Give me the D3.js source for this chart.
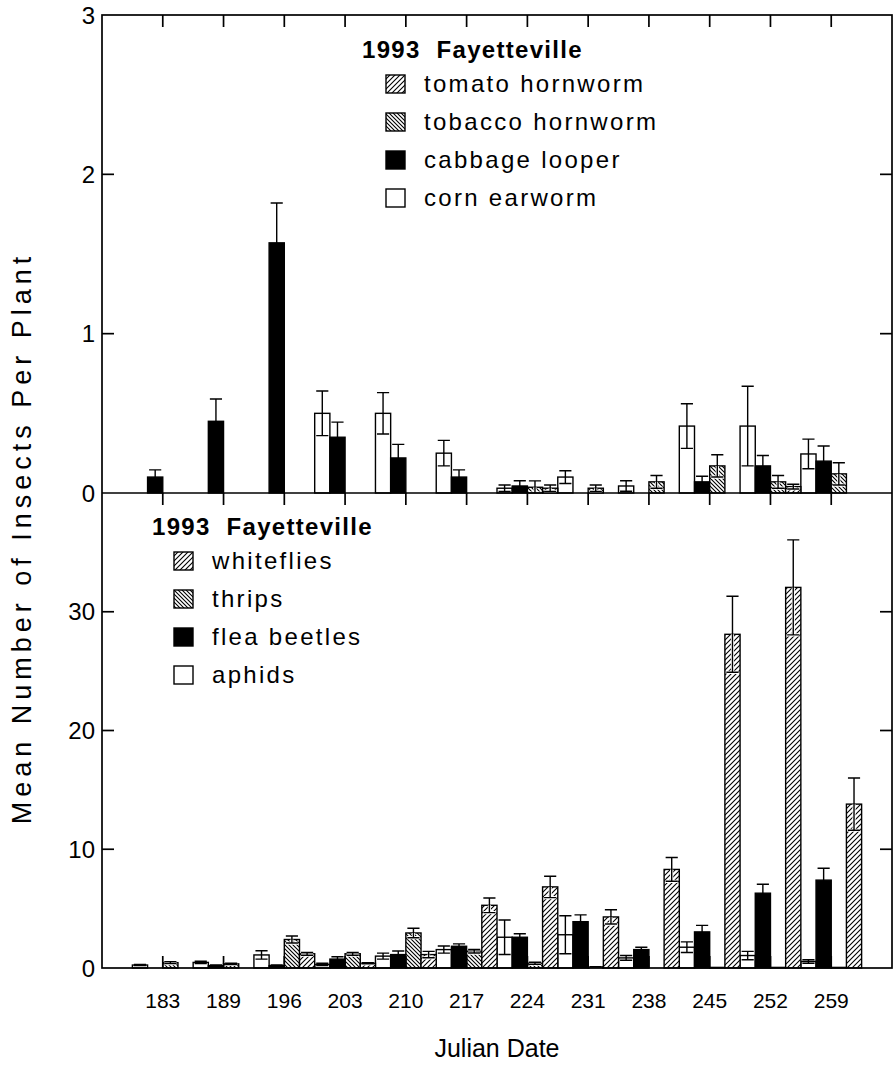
<!DOCTYPE html>
<html><head><meta charset="utf-8">
<script src="https://cdn.jsdelivr.net/npm/d3@7"></script>
<style>
body{margin:0;background:#fff}
svg{display:block}
text{font-family:"Liberation Sans",Arial,Helvetica,sans-serif;fill:#000}
</style>
</head><body>
<svg id="chart" width="894" height="1067"></svg>
<script>
// ---- data ----
const dates = [183,189,196,203,210,217,224,231,238,245,252,259];

// top panel (Lepidoptera)
const tomatoHornworm   = [0,0,0,0,0,0,0.03,0,0,0,0.04,0];
const tomatoHornwormSE = [0,0,0,0,0,0,0.02,0,0,0,0.015,0];
const tobaccoHornworm   = [0,0,0,0,0,0,0.036,0.03,0.07,0.17,0.07,0.12];
const tobaccoHornwormSE = [0,0,0,0,0,0,0.04,0.02,0.04,0.07,0.04,0.07];
const cabbageLooper   = [0.10,0.45,1.57,0.35,0.22,0.10,0.044,0,0,0.07,0.17,0.20];
const cabbageLooperSE = [0.045,0.14,0.25,0.095,0.085,0.045,0.033,0,0,0.035,0.065,0.095];
const cornEarworm   = [0,0,0,0.50,0.50,0.25,0.03,0.10,0.044,0.42,0.42,0.245];
const cornEarwormSE = [0,0,0,0.14,0.13,0.08,0.02,0.04,0.033,0.14,0.25,0.093];

// bottom panel
const whiteflies   = [0,0,1.2,0.4,1.13,5.28,6.83,4.3,8.3,28.1,32.05,13.8];
const whitefliesSE = [0,0,0.12,0.05,0.27,0.62,0.9,0.6,1.0,3.2,4.0,2.2];
const thrips   = [0.45,0.35,2.4,1.2,2.95,1.41,0.4,0.1,0,0.05,0.05,0.05];
const thripsSE = [0.08,0.05,0.3,0.12,0.4,0.15,0.08,0.02,0,0,0,0];
const fleaBeetles   = [0,0.2,0.2,0.75,1.13,1.83,2.59,3.9,1.55,3.04,6.3,7.4];
const fleaBeetlesSE = [0,0.05,0.05,0.2,0.3,0.2,0.3,0.57,0.2,0.55,0.75,1.0];
const aphids   = [0.25,0.47,1.1,0.3,1.0,1.55,2.59,2.8,0.85,1.75,1.05,0.55];
const aphidsSE = [0.05,0.1,0.35,0.1,0.25,0.3,1.45,1.6,0.2,0.45,0.35,0.15];

const topTicks = [0,1,2,3];
const bottomTicks = [0,10,20,30];
const legendTitle = "1993  Fayetteville";
const xTitle = "Julian Date";
const yTitle = "Mean Number of Insects Per Plant";

// ---- layout ----
const L = 102, R = 892, T = 15, M = 493, B = 968;
const svg = d3.select("#chart");

const defs = svg.append("defs");
// "////" pattern
const pf = defs.append("pattern").attr("id","fwd").attr("patternUnits","userSpaceOnUse")
  .attr("width",5).attr("height",5);
pf.append("rect").attr("width",5).attr("height",5).attr("fill","#fff");
pf.append("path").attr("d","M-1,1 L1,-1 M0,5 L5,0 M4,6 L6,4").attr("stroke","#000").attr("stroke-width",1.1);
// "\\\\" pattern (denser)
const pb = defs.append("pattern").attr("id","bwd").attr("patternUnits","userSpaceOnUse")
  .attr("width",4).attr("height",4);
pb.append("rect").attr("width",4).attr("height",4).attr("fill","#fff");
pb.append("path").attr("d","M-1,3 L1,5 M0,0 L4,4 M3,-1 L5,1").attr("stroke","#000").attr("stroke-width",1.1);

const fills = {white:"#fff", black:"#000", bwd:"url(#bwd)", fwd:"url(#fwd)"};
const keys = ["white","black","bwd","fwd"];

const x = d3.scaleBand().domain(dates).range([L,R]).paddingInner(0).paddingOuter(0.5);
const xs = d3.scaleBand().domain(keys).range([0, x.bandwidth()]).padding(0);

const yTop = d3.scaleLinear().domain([0,3]).range([M,T]);
const yBot = d3.scaleLinear().domain([0,40]).range([B,M]);

function drawPanel(series, y) {
  const g = svg.append("g");
  series.forEach(s => {
    const data = dates.map((d,i)=>({d, v:s.vals[i], e:s.se[i]}));
    g.selectAll(null).data(data.filter(p=>p.v>0)).join("rect")
      .attr("x", p=>x(p.d)+xs(s.key))
      .attr("width", xs.bandwidth())
      .attr("y", p=>y(p.v))
      .attr("height", p=>y(0)-y(p.v))
      .attr("fill", fills[s.key])
      .attr("stroke","#000").attr("stroke-width",1.4);
  });
  series.forEach(s => {
    const data = dates.map((d,i)=>({d, v:s.vals[i], e:s.se[i]})).filter(p=>p.e>0);
    const bw = xs.bandwidth();
    data.forEach(p=>{
      const cx = x(p.d)+xs(s.key)+bw/2;
      const y1 = y(p.v+p.e), y0 = y(Math.max(0,p.v-p.e));
      const cw = bw*0.8;
      if (s.key==="bwd"||s.key==="fwd") {
        g.append("path").attr("d",`M${cx},${y(p.v)}V${y0}M${cx-cw/2},${y0}H${cx+cw/2}`)
          .attr("stroke","#fff").attr("stroke-width",3.2).attr("fill","none");
      }
      g.append("path")
        .attr("d",`M${cx},${y1}V${y0}M${cx-cw/2},${y1}H${cx+cw/2}M${cx-cw/2},${y0}H${cx+cw/2}`)
        .attr("stroke","#000").attr("stroke-width",1.4).attr("fill","none");
    });
  });
}

drawPanel([
  {key:"white", vals:cornEarworm, se:cornEarwormSE},
  {key:"black", vals:cabbageLooper, se:cabbageLooperSE},
  {key:"bwd", vals:tobaccoHornworm, se:tobaccoHornwormSE},
  {key:"fwd", vals:tomatoHornworm, se:tomatoHornwormSE}
], yTop);

drawPanel([
  {key:"white", vals:aphids, se:aphidsSE},
  {key:"black", vals:fleaBeetles, se:fleaBeetlesSE},
  {key:"bwd", vals:thrips, se:thripsSE},
  {key:"fwd", vals:whiteflies, se:whitefliesSE}
], yBot);

// ---- axes ----
const tk = 12;
const axG = svg.append("g").attr("stroke","#000").attr("stroke-width",1.7).attr("fill","none");
axG.append("rect").attr("x",L).attr("y",T).attr("width",R-L).attr("height",B-T);
axG.append("line").attr("x1",L).attr("x2",R).attr("y1",M).attr("y2",M);

const xTickPos = dates.map(d=>x(d)+x.bandwidth()/2);
xTickPos.forEach(px=>{
  axG.append("line").attr("x1",px).attr("x2",px).attr("y1",T).attr("y2",T+tk);
  axG.append("line").attr("x1",px).attr("x2",px).attr("y1",M).attr("y2",M+tk);
  axG.append("line").attr("x1",px).attr("x2",px).attr("y1",B).attr("y2",B-tk);
});
topTicks.filter(t=>t>0&&t<3).forEach(t=>{
  axG.append("line").attr("x1",L).attr("x2",L+tk).attr("y1",yTop(t)).attr("y2",yTop(t));
  axG.append("line").attr("x1",R).attr("x2",R-tk).attr("y1",yTop(t)).attr("y2",yTop(t));
});
bottomTicks.filter(t=>t>0).forEach(t=>{
  axG.append("line").attr("x1",L).attr("x2",L+tk).attr("y1",yBot(t)).attr("y2",yBot(t));
  axG.append("line").attr("x1",R).attr("x2",R-tk).attr("y1",yBot(t)).attr("y2",yBot(t));
});

// tick labels
svg.append("g").selectAll("text").data(topTicks).join("text")
  .attr("x",95).attr("y",t=>yTop(t)).attr("dy","0.36em").attr("text-anchor","end")
  .attr("font-size",24).text(t=>t);
svg.append("g").selectAll("text").data(bottomTicks).join("text")
  .attr("x",95).attr("y",t=>yBot(t)).attr("dy","0.36em").attr("text-anchor","end")
  .attr("font-size",24).text(t=>t);
svg.append("g").selectAll("text").data(dates).join("text")
  .attr("x",d=>x(d)+x.bandwidth()/2).attr("y",1008).attr("text-anchor","middle")
  .attr("font-size",21).text(d=>d);

svg.append("text").attr("x",497).attr("y",1057).attr("text-anchor","middle")
  .attr("font-size",25).text(xTitle);
svg.append("text").attr("transform","translate(31,538) rotate(-90)").attr("text-anchor","middle")
  .attr("font-size",27).attr("letter-spacing",5).text(yTitle);

// ---- legends ----
function legend(x0, y0, names, titleX) {
  const g = svg.append("g");
  g.append("text").attr("x",titleX).attr("y",y0).attr("font-size",24).attr("font-weight","bold")
    .attr("letter-spacing",1.3).style("white-space","pre").text(legendTitle);
  names.forEach((n,i)=>{
    const cy = y0 + 26 + i*38;
    g.append("rect").attr("x",x0).attr("y",cy-9).attr("width",19).attr("height",18)
      .attr("fill",fills[n.key]).attr("stroke","#000").attr("stroke-width",1.4);
    g.append("text").attr("x",x0+38).attr("y",cy+8).attr("font-size",24)
      .attr("letter-spacing",2.3).text(n.name);
  });
}
legend(386, 58, [
  {key:"fwd", name:"tomato hornworm"},
  {key:"bwd", name:"tobacco hornworm"},
  {key:"black", name:"cabbage looper"},
  {key:"white", name:"corn earworm"}
], 362);
legend(174, 535, [
  {key:"fwd", name:"whiteflies"},
  {key:"bwd", name:"thrips"},
  {key:"black", name:"flea beetles"},
  {key:"white", name:"aphids"}
], 152);
</script>
</body></html>
